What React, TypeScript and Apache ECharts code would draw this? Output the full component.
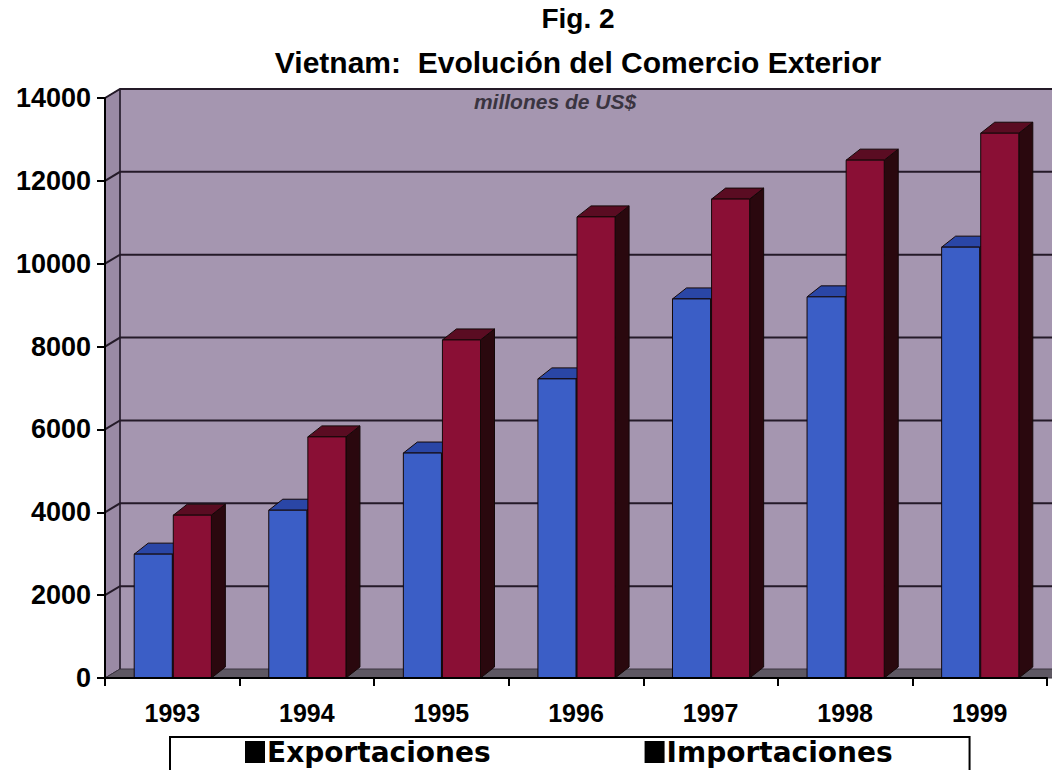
import React, { useEffect, useRef } from "react";
import * as echarts from "echarts";

const years = ["1993", "1994", "1995", "1996", "1997", "1998", "1999"];
const exportaciones = [2990, 4050, 5430, 7220, 9150, 9200, 10400];
const importaciones = [3930, 5820, 8160, 11130, 11560, 12500, 13150];
const yTicks = [0, 2000, 4000, 6000, 8000, 10000, 12000, 14000];

const FONT = "'Liberation Sans', Arial, sans-serif";
const WIDE = "'DejaVu Sans', 'Liberation Sans', sans-serif";
const DX = 14;
const DY = -11;
const WX = 15;
const WY = -9;

function barRenderer(side: "left" | "right", front: string, top: string, sideFill: string) {
  return (params: any, api: any) => {
    const cat = api.value(0);
    const v = api.value(1);
    const p1 = api.coord([cat, v]);
    const p0 = api.coord([cat, 0]);
    const bw = api.size([1, 0])[0];
    const w = bw * 0.283;
    const cx = p1[0];
    const x0 = side === "left" ? cx - w : cx + 1;
    const y1 = p1[1];
    const y0 = p0[1];
    const edge = "#140808";
    return {
      type: "group",
      children: [
        {
          type: "polygon",
          shape: { points: [[x0 + w, y1], [x0 + w + DX, y1 + DY], [x0 + w + DX, y0 + DY], [x0 + w, y0]] },
          style: { fill: sideFill, stroke: edge, lineWidth: 1 },
        },
        {
          type: "polygon",
          shape: { points: [[x0, y1], [x0 + DX, y1 + DY], [x0 + w + DX, y1 + DY], [x0 + w, y1]] },
          style: { fill: top, stroke: edge, lineWidth: 1 },
        },
        {
          type: "rect",
          shape: { x: x0, y: y1, width: w, height: y0 - y1 },
          style: { fill: front, stroke: edge, lineWidth: 1 },
        },
      ],
    };
  };
}

function wallRenderer(params: any, api: any) {
  const cs = params.coordSys;
  const x = cs.x;
  const y = cs.y;
  const w = cs.width;
  const h = cs.height;
  const children: any[] = [
    {
      type: "rect",
      shape: { x: x + WX, y: y + WY, width: w + 20, height: h },
      style: { fill: "#a596b0" },
    },
    {
      type: "polygon",
      shape: { points: [[x, y], [x + WX, y + WY], [x + WX, y + h + WY], [x, y + h]] },
      style: { fill: "#9a8aa5", stroke: "#2a2030", lineWidth: 1 },
    },
    {
      type: "polygon",
      shape: { points: [[x, y + h], [x + WX, y + h + WY], [x + w + WX + 20, y + h + WY], [x + w + 20, y + h]] },
      style: { fill: "#5e5863", stroke: "#3a3440", lineWidth: 1 },
    },
    {
      type: "line",
      shape: { x1: x + WX, y1: y + WY, x2: x + WX, y2: y + h + WY },
      style: { stroke: "#2a2030", lineWidth: 1.5 },
    },
  ];
  yTicks.forEach((t) => {
    if (t === 0) return;
    const yy = api.coord([0, t])[1];
    children.push({
      type: "polyline",
      shape: { points: [[x, yy], [x + WX, yy + WY], [x + w + WX + 20, yy + WY]] },
      style: { stroke: "#241a28", lineWidth: 2, fill: null },
    });
  });
  return { type: "group", children };
}

export default function App() {
  const ref = useRef<HTMLDivElement>(null);
  useEffect(() => {
    if (!ref.current) return;
    const chart = echarts.init(ref.current, undefined, { renderer: "svg" });
    chart.setOption({
      animation: false,
      backgroundColor: "#ffffff",
      graphic: [
        {
          type: "text",
          x: 578,
          y: 18,
          style: { text: "Fig. 2", font: `bold 28px ${FONT}`, fill: "#000", align: "center", verticalAlign: "middle" },
        },
        {
          type: "text",
          x: 578,
          y: 62,
          style: {
            text: "Vietnam:  Evolución del Comercio Exterior",
            font: `bold 30px ${FONT}`,
            fill: "#000",
            align: "center",
            verticalAlign: "middle",
          },
          z: 100,
        },
        {
          type: "text",
          x: 555,
          y: 101,
          z: 100,
          style: {
            text: "millones de US$",
            font: `italic bold 21px ${FONT}`,
            fill: "#3a3440",
            align: "center",
            verticalAlign: "middle",
          },
        },
      ],
      legend: {
        data: [
          { name: "Exportaciones", icon: "rect", itemStyle: { color: "#000" } },
          { name: "Importaciones", icon: "rect", itemStyle: { color: "#000" } },
        ],
        left: 170,
        top: 737,
        orient: "horizontal",
        itemWidth: 20,
        itemHeight: 22,
        itemGap: 154,
        itemStyle: { borderWidth: 0 },
        textStyle: { fontFamily: WIDE, fontWeight: "bold", fontSize: 28, color: "#000", padding: [0, 0, 0, -3] },
        borderColor: "#000",
        borderWidth: 2,
        padding: [1, 77, 30, 75],
        backgroundColor: "#fff",
      },
      grid: { left: 105, right: 5, top: 98, bottom: 92, containLabel: false },
      xAxis: {
        type: "category",
        data: years,
        boundaryGap: true,
        axisLine: { show: true, lineStyle: { color: "#000", width: 2 } },
        axisTick: { show: true, length: 8, lineStyle: { color: "#000", width: 2 } },
        axisLabel: { fontFamily: FONT, fontWeight: "bold", fontSize: 25, color: "#000", margin: 22 },
        z: 10,
      },
      yAxis: {
        type: "value",
        min: 0,
        max: 14000,
        interval: 2000,
        axisLine: { show: true, lineStyle: { color: "#000", width: 2 } },
        axisTick: { show: true, length: 8, lineStyle: { color: "#000", width: 2 } },
        axisLabel: {
          fontFamily: FONT,
          fontWeight: "bold",
          fontSize: 27,
          color: "#000",
          margin: 14,
          formatter: (v: number) => String(v),
        },
        splitLine: { show: false },
        z: 10,
      },
      series: [
        {
          name: "wall",
          type: "custom",
          renderItem: wallRenderer,
          data: [[0, 0]],
          encode: { x: 0, y: 1 },
          silent: true,
          z: 1,
        },
        {
          name: "Exportaciones",
          type: "custom",
          renderItem: barRenderer("left", "#3b5ec6", "#2a46a6", "#1a2a66"),
          data: years.map((_, i) => [i, exportaciones[i]]),
          encode: { x: 0, y: 1 },
          itemStyle: { color: "#3b5ec6" },
          z: 2,
        },
        {
          name: "Importaciones",
          type: "custom",
          renderItem: barRenderer("right", "#8a0f35", "#5a0c22", "#2a080e"),
          data: years.map((_, i) => [i, importaciones[i]]),
          encode: { x: 0, y: 1 },
          itemStyle: { color: "#8a0f35" },
          z: 3,
        },
      ],
    });
    return () => chart.dispose();
  }, []);
  return <div ref={ref} style={{ position: "fixed", left: 0, top: 0, width: 1052, height: 770 }} />;
}
